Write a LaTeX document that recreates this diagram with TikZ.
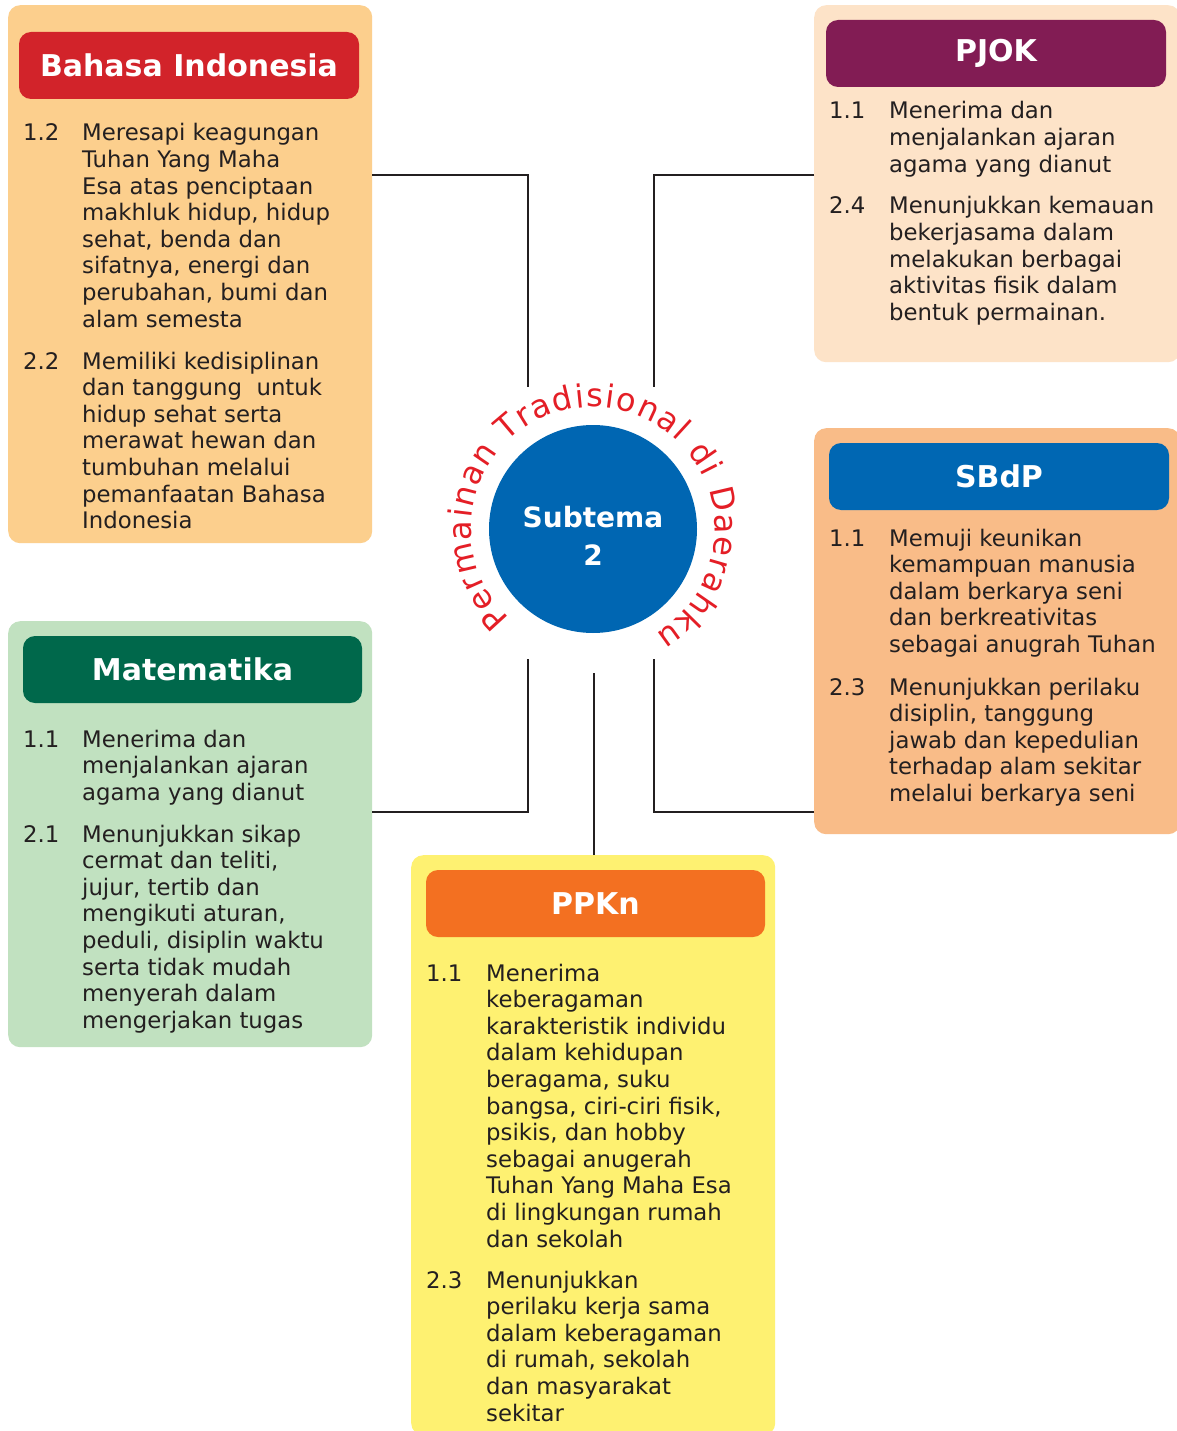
\documentclass[tikz,border=0pt]{standalone}
\usepackage{fontspec}
\setmainfont{DejaVu Sans}
\usetikzlibrary{decorations.text}
\definecolor{biBg}{HTML}{FCCF8D}
\definecolor{biHd}{HTML}{D2232A}
\definecolor{pjBg}{HTML}{FDE3C8}
\definecolor{pjHd}{HTML}{821C54}
\definecolor{sbBg}{HTML}{F9BC88}
\definecolor{sbHd}{HTML}{0067B3}
\definecolor{mtBg}{HTML}{C1E1C0}
\definecolor{mtHd}{HTML}{00684B}
\definecolor{ppBg}{HTML}{FEF171}
\definecolor{ppHd}{HTML}{F37021}
\definecolor{circ}{HTML}{0066B2}
\definecolor{arcred}{HTML}{E41E26}
\definecolor{ink}{HTML}{231F20}
\newcommand{\bodyfont}{\fontsize{22.8}{26.6}\selectfont}
\newcommand{\arcfont}{\fontsize{32}{36}\selectfont}
\newcommand{\rows}[1]{\begin{tabular}[t]{@{}l@{}}#1\end{tabular}}
\begin{document}
\begin{tikzpicture}[x=1pt,y=1pt,
  panel/.style={draw=none, rounded corners=12pt, inner sep=0pt, anchor=north west},
  head/.style={draw=none, rounded corners=12pt, inner sep=0pt, text=white,
    font=\fontsize{30}{34}\selectfont\bfseries},
  num/.style={anchor=base west, inner sep=0pt, text=ink, font=\bodyfont},
  item/.style={anchor=base west, inner sep=0pt, text=ink, font=\bodyfont},
  conn/.style={draw=ink, line width=2.6pt}]
\useasboundingbox (0,0) rectangle (1176,-1431);
\fill[white] (0,0) rectangle (1176,-1431);

% panels
\node[panel, fill=biBg, minimum width=364pt, minimum height=538pt] (bi) at (8,-5) {};
\node[panel, fill=pjBg, minimum width=366pt, minimum height=357pt] (pj) at (814,-5) {};
\node[panel, fill=sbBg, minimum width=366pt, minimum height=406pt] (sb) at (814,-428) {};
\node[panel, fill=mtBg, minimum width=364pt, minimum height=426pt] (mt) at (8,-621) {};
\node[panel, fill=ppBg, minimum width=364pt, minimum height=580pt] (pp) at (411,-855) {};

% headers
\node[head, fill=biHd, minimum width=340pt, minimum height=67pt] (bih) at (189,-65.5) {Bahasa Indonesia};
\node[head, fill=pjHd, minimum width=340pt, minimum height=67pt] (pjh) at (996,-53.5) {PJOK};
\node[head, fill=sbHd, minimum width=340pt, minimum height=67pt] (sbh) at (999,-476.5) {SBdP};
\node[head, fill=mtHd, minimum width=339pt, minimum height=67pt] (mth) at (192.5,-669.5) {Matematika};
\node[head, fill=ppHd, minimum width=339pt, minimum height=67pt] (pph) at (595.5,-903.5) {PPKn};

% Bahasa Indonesia items
\node[num] (bin1) at (23,-141) {1.2};
\node[item] (bit1) at (82,-141) {\rows{Meresapi keagungan\\Tuhan Yang Maha\\Esa atas penciptaan\\makhluk hidup, hidup\\sehat, benda dan\\sifatnya, energi dan\\perubahan, bumi dan\\alam semesta}};
\node[num] (bin2) at (23,-369) {2.2};
\node[item] (bit2) at (82,-369) {\rows{Memiliki kedisiplinan\\dan tanggung\ \ untuk\\hidup sehat serta\\merawat hewan dan\\tumbuhan melalui\\pemanfaatan Bahasa\\Indonesia}};

% PJOK items
\node[num] (pjn1) at (829,-119) {1.1};
\node[item] (pjt1) at (889,-119) {\rows{Menerima dan\\menjalankan ajaran\\agama yang dianut}};
\node[num] (pjn2) at (829,-214) {2.4};
\node[item] (pjt2) at (889,-214) {\rows{Menunjukkan kemauan\\bekerjasama dalam\\melakukan berbagai\\aktivitas fisik dalam\\bentuk permainan.}};

% SBdP items
\node[num] (sbn1) at (829,-546) {1.1};
\node[item] (sbt1) at (889,-546) {\rows{Memuji keunikan\\kemampuan manusia\\dalam berkarya seni\\dan berkreativitas\\sebagai anugrah Tuhan}};
\node[num] (sbn2) at (829,-695) {2.3};
\node[item] (sbt2) at (889,-695) {\rows{Menunjukkan perilaku\\disiplin, tanggung\\jawab dan kepedulian\\terhadap alam sekitar\\melalui berkarya seni}};

% Matematika items
\node[num] (mtn1) at (23,-747) {1.1};
\node[item] (mtt1) at (82,-747) {\rows{Menerima dan\\menjalankan ajaran\\agama yang dianut}};
\node[num] (mtn2) at (23,-842) {2.1};
\node[item] (mtt2) at (82,-842) {\rows{Menunjukkan sikap\\cermat dan teliti,\\jujur, tertib dan\\mengikuti aturan,\\peduli, disiplin waktu\\serta tidak mudah\\menyerah dalam\\mengerjakan tugas}};

% PPKn items
\node[num] (ppn1) at (426,-981) {1.1};
\node[item] (ppt1) at (486,-981) {\rows{Menerima\\keberagaman\\karakteristik individu\\dalam kehidupan\\beragama, suku\\bangsa, ciri-ciri fisik,\\psikis, dan hobby\\sebagai anugerah\\Tuhan Yang Maha Esa\\di lingkungan rumah\\dan sekolah}};
\node[num] (ppn2) at (426,-1288) {2.3};
\node[item] (ppt2) at (486,-1288) {\rows{Menunjukkan\\perilaku kerja sama\\dalam keberagaman\\di rumah, sekolah\\dan masyarakat\\sekitar}};

% central circle
\node[circle, fill=circ, minimum size=208pt, inner sep=0pt] (sub) at (593,-529) {};
\node[text=white, align=center, inner sep=0pt,
  font=\fontsize{28}{38}\selectfont\bfseries] (sublbl) at (593,-536) {Subtema\\2};
\path[decorate, decoration={text along path, text align=fit to path,
  text={|\arcfont\color{arcred}|Permainan Tradisional di Daerahku}}]
  (593,-529) ++(227:122) arc[start angle=227, end angle=-59, radius=122];

% connector ends
\coordinate (k1) at (528,-175);  \coordinate (e1) at (528,-387);
\coordinate (k2) at (654,-175);  \coordinate (e2) at (654,-387);
\coordinate (k3) at (528,-812);  \coordinate (e3) at (528,-659);
\coordinate (k4) at (654,-812);  \coordinate (e4) at (654,-659);
\coordinate (e5) at (594,-673);

\draw[conn] (bi.east |- k1) -- (k1) -- (e1);
\draw[conn] (pj.west |- k2) -- (k2) -- (e2);
\draw[conn] (mt.east |- k3) -- (k3) -- (e3);
\draw[conn] (sb.west |- k4) -- (k4) -- (e4);
\draw[conn] (pp.north -| e5) -- (e5);
\end{tikzpicture}
\end{document}
